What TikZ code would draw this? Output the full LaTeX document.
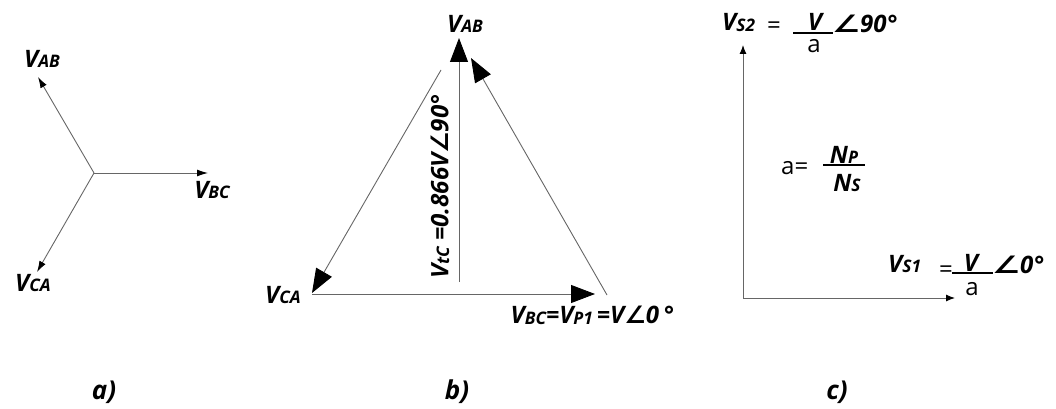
\documentclass[tikz,border=0pt]{standalone}
\usepackage{fontspec}
\setmainfont{Open Sans}
\newfontfamily\labfont{Open Sans}
\newfontfamily\upfont{Open Sans}
\newfontfamily\angfont{DejaVu Sans}
\usetikzlibrary{arrows.meta}
\newcommand{\sub}[1]{\raisebox{-0.03em}{\scalebox{0.72}{#1}}}
\newcommand{\ang}{{\angfont\bfseries ∠}}
\newcommand{\wang}{\scalebox{1.3}[1]{\angfont\bfseries ∠}}
\tikzset{
  vec/.style={draw=black!60, line width=0.9pt, -{Latex[length=11pt,width=7pt,color=black]}},
  bigvec/.style={draw=black!60, line width=0.9pt, -{Triangle[length=24pt,width=18pt,color=black]}},
  axis/.style={draw=black!60, line width=1pt, -{Latex[length=9pt,width=7pt,color=black]}},
  lab/.style={font=\labfont\bfseries\itshape\fontsize{24}{27}\selectfont, inner sep=0pt, text=black},
  caplab/.style={font=\labfont\bfseries\itshape\fontsize{26}{29}\selectfont, inner sep=0pt, text=black},
  uplab/.style={font=\upfont\fontsize{24}{27}\selectfont, inner sep=0pt, text=black},
  frac/.style={draw=black, line width=1.6pt},
}
\begin{document}
\begin{tikzpicture}[x=1pt,y=-1pt]
\useasboundingbox (0,0) rectangle (1056,409);
% ---------- a) ----------
\coordinate (O) at (94,173);
\coordinate (Aab) at (38,77);
\coordinate (Abc) at (208,173);
\coordinate (Aca) at (37,272);
\draw[vec] (O) -- (Aab);
\draw[vec] (O) -- (Abc);
\draw[vec] (O) -- (Aca);
\node[lab] (labab) at (42,59) {V\sub{AB}};
\node[lab] (labbc) at (212,190) {V\sub{BC}};
\node[lab] (labca) at (33,283) {V\sub{CA}};
\node[caplab] (capa) at (104,392) {a)};
% ---------- b) ----------
\coordinate (B1s) at (441,70);
\coordinate (B1e) at (312,293);
\coordinate (B2s) at (312,294);
\coordinate (B2e) at (595,294);
\coordinate (B3s) at (607,295);
\coordinate (B3e) at (471,58);
\coordinate (B4s) at (459,282);
\coordinate (B4e) at (459,38);
\draw[bigvec] (B1s) -- (B1e);
\draw[bigvec] (B2s) -- (B2e);
\draw[bigvec] (B3s) -- (B3e);
\draw[bigvec] (B4s) -- (B4e);
\node[lab] (bab) at (465,24) {V\sub{AB}};
\node[lab] (bca) at (283,295) {V\sub{CA}};
\node[lab] (bbc) at (592,315) {V\sub{BC}=V\sub{P1}\,=V\ang0\,°};
\node[lab, rotate=90] (btc) at (440,187) {V\sub{tC} =0.866V\ang90°};
\node[caplab] (capb) at (457,392) {b)};
% ---------- c) ----------
\coordinate (C0) at (743,298);
\coordinate (Cy) at (743,45);
\coordinate (Cx) at (955,298);
\draw[axis] (C0) -- (Cy);
\draw[axis] (C0) -- (Cx);
% top label
\node[lab, anchor=base west] (s2) at (722,31) {V\sub{S2}};
\node[uplab, anchor=base] (s2eq) at (774,34) {=};
\draw[frac] (793,33) coordinate (f1a) -- (833,33) coordinate (f1b);
\node[lab, anchor=base] (s2v) at (815,31) {V};
\node[uplab, anchor=base] (s2a) at (814,53) {a};
\node[lab, anchor=base west] (s2ang) at (832,33) {\wang 90°};
% a = Np/Ns
\node[uplab, anchor=base west] (aeq) at (781,174) {a=};
\draw[frac] (823,165) coordinate (f2a) -- (865,165) coordinate (f2b);
\node[lab, anchor=base] (np) at (844,163) {N\sub{P}};
\node[lab, anchor=base] (ns) at (847,191) {N\sub{S}};
% bottom label
\node[lab, anchor=base west] (s1) at (888,272) {V\sub{S1}};
\node[uplab, anchor=base] (s1eq) at (946,277) {=};
\draw[frac] (952,273) coordinate (f3a) -- (993,273) coordinate (f3b);
\node[lab, anchor=base] (s1v) at (971,271) {V};
\node[uplab, anchor=base] (s1a) at (972,295) {a};
\node[lab, anchor=base west] (s1ang) at (992,273) {\wang 0°};
\node[caplab] (capc) at (837,392) {c)};
\end{tikzpicture}
\end{document}
